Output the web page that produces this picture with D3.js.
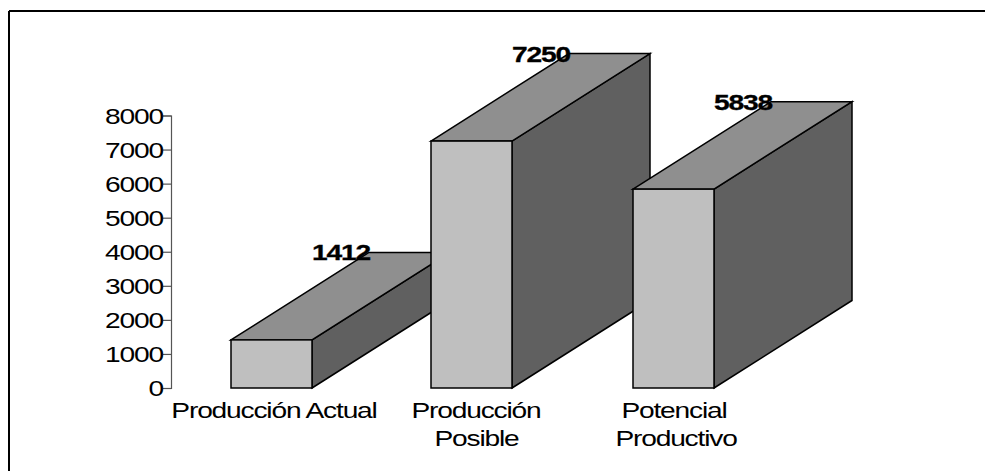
<!DOCTYPE html>
<html><head><meta charset="utf-8">
<script src="https://cdnjs.cloudflare.com/ajax/libs/d3/7.8.5/d3.min.js"></script>
<style>html,body{margin:0;padding:0;background:#fff}svg{display:block}text{font-family:"Liberation Sans",Arial,sans-serif;fill:#000}</style>
</head><body><svg id="c" width="985" height="471"></svg>
<script>
const categories = [["Producción Actual"], ["Producción","Posible"], ["Potencial","Productivo"]];
const values = [1412, 7250, 5838];
const ticks = [0,1000,2000,3000,4000,5000,6000,7000,8000];
const frontLefts = [231, 431, 633];

const svg = d3.select("#c");
svg.append("path").attr("d","M9,11H985M9,11V471").attr("stroke","#000").attr("stroke-width",2).attr("fill","none");
const y = d3.scaleLinear().domain([0,8000]).range([388,115.5]);
const barW = 81, dx = 138, dy = -87.5, sx = 1.31, fs = 21.5, ls = -0.9;
const wide = (sel,x,yy,anchor,bold)=>sel.append("text")
  .attr("transform",`translate(${x},${yy}) scale(${sx},1)`)
  .attr("text-anchor",anchor).attr("font-size",fs).attr("letter-spacing",ls)
  .attr("font-weight",bold?"bold":"normal");

svg.append("path").attr("d","M163,116H171.5V388.5H163").attr("fill","none").attr("stroke","#555").attr("stroke-width",1.2);
ticks.forEach(t=>{
  svg.append("line").attr("x1",163).attr("x2",171.5).attr("y1",y(t)+.5).attr("y2",y(t)+.5).attr("stroke","#555").attr("stroke-width",1.2);
  wide(svg,163,y(t)+8,"end",false).text(t);
});
const g = svg.append("g").attr("stroke","#000").attr("stroke-width",1.5);
values.forEach((v,i)=>{
  const l=frontLefts[i], r=l+barW, b=y(0), t=y(v);
  const P=a=>a.map(p=>p.join(",")).join(" ");
  g.append("polygon").attr("points",P([[r,b],[r+dx,b+dy],[r+dx,t+dy],[r,t]])).attr("fill","#606060");
  g.append("polygon").attr("points",P([[l,t],[l+dx,t+dy],[r+dx,t+dy],[r,t]])).attr("fill","#8f8f8f");
  g.append("rect").attr("x",l).attr("y",t).attr("width",barW).attr("height",b-t).attr("fill","#bfbfbf");
});
values.forEach((v,i)=>{
  wide(svg,frontLefts[i]+110,y(v)+dy+8,"middle",true).attr("stroke","#000").attr("stroke-width",0.3).text(v);
});
const centers=[[274],[476,476.5],[674,676]];
categories.forEach((lines,i)=>{
  lines.forEach((s,j)=>{
    wide(svg,centers[i][j],418+j*28,"middle",false).text(s);
  });
});
</script></body></html>
